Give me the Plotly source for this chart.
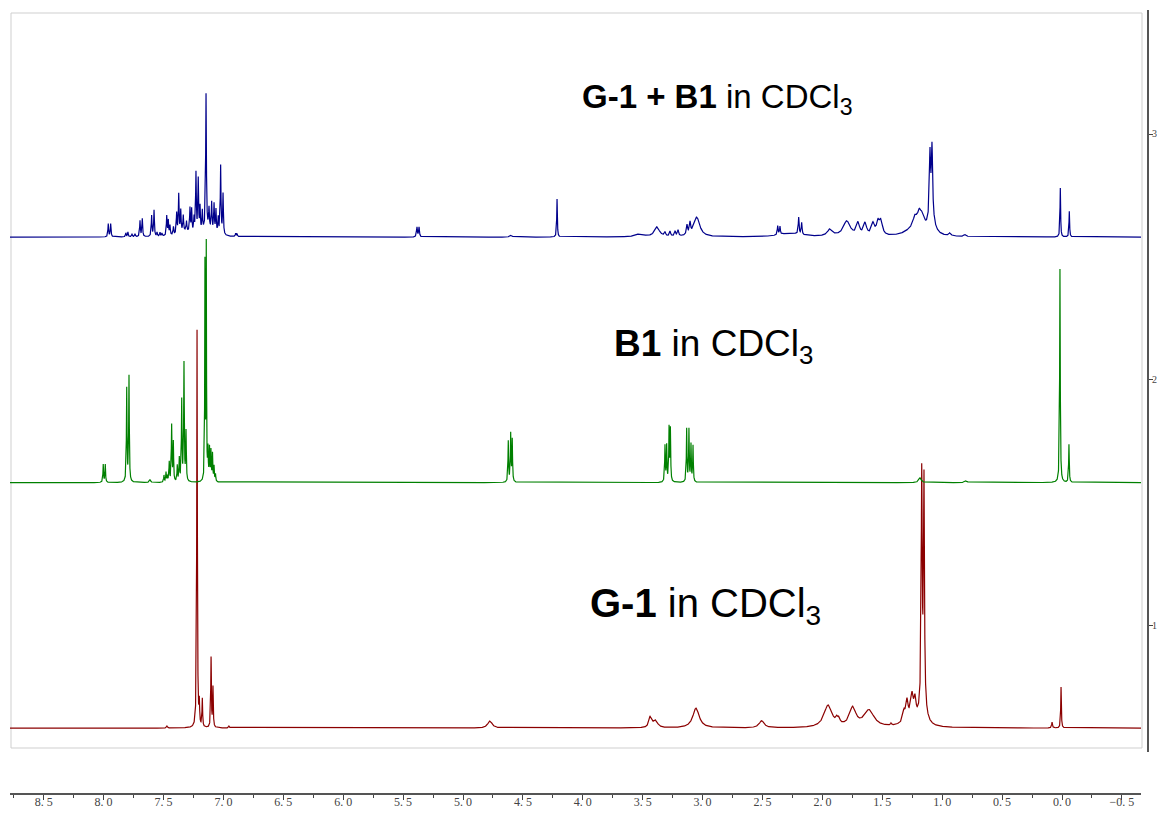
import numpy as np
import plotly.graph_objects as go

PAGE = 8   # the html body margin shifts the figure by 8 px
W, H = 1165 - 2 * PAGE, 818 - 2 * PAGE   # fits the window without scrolling

# ---------------- data: peak tables ----------------
# chemical shift (ppm), intensity (axis units), half width (ppm)
red_ppm = [7.471, 7.220, 7.201, 7.176, 7.103, 7.087, 6.953, 4.775, 3.440, 3.425, 3.391,
           3.055, 2.507, 1.953, 1.880, 1.862, 1.747, 1.611, 1.427, 1.319, 1.294, 1.252,
           1.227, 1.270, 1.171, 1.152, 1.162, 0.083, 0.008]
red_int = [0.008, 1.62, 0.09, 0.114, 0.285, 0.163, 0.008, 0.029, 0.037, 0.02, 0.029,
           0.081, 0.029, 0.09, 0.02, 0.02, 0.077, 0.069, 0.008, 0.04, 0.073, 0.09,
           0.073, 0.033, 0.91, 0.89, 0.12, 0.024, 0.167]
red_hw = [0.005, 0.003, 0.003, 0.003, 0.003, 0.003, 0.005, 0.022, 0.012, 0.01, 0.02,
          0.032, 0.025, 0.04, 0.01, 0.01, 0.032, 0.05, 0.005, 0.01, 0.01, 0.012,
          0.01, 0.06, 0.0045, 0.0045, 0.025, 0.004, 0.003]

green_ppm = [8.003, 7.986, 7.807, 7.788, 7.613, 7.496, 7.479, 7.467, 7.452, 7.432, 7.418,
             7.385, 7.368, 7.348, 7.329, 7.312, 7.154, 7.143, 7.129, 7.116, 7.104, 7.091,
             7.078, 7.066, 4.622, 4.602, 4.589, 3.314, 3.300, 3.280, 3.269, 3.133, 3.114,
             3.097, 3.080, 1.185, 0.801, 0.017, -0.058]
green_int = [0.073, 0.073, 0.38, 0.43, 0.012, 0.028, 0.04, 0.024, 0.08, 0.23, 0.16,
             0.065, 0.094, 0.33, 0.48, 0.2, 0.88, 0.95, 0.12, 0.13, 0.12, 0.11,
             0.06, 0.03, 0.167, 0.195, 0.171, 0.147, 0.147, 0.216, 0.212, 0.216, 0.212,
             0.151, 0.147, 0.02, 0.008, 0.87, 0.155]
green_hw = [0.003, 0.003, 0.003, 0.003, 0.006, 0.003, 0.003, 0.003, 0.003, 0.003, 0.003,
            0.003, 0.003, 0.003, 0.003, 0.003, 0.0022, 0.0022, 0.003, 0.003, 0.003, 0.003,
            0.003, 0.003, 0.003, 0.003, 0.003, 0.003, 0.003, 0.003, 0.003, 0.003, 0.003,
            0.003, 0.003, 0.012, 0.012, 0.003, 0.003]

blue_ppm = [7.961, 7.941, 7.814, 7.797, 7.763, 7.738, 7.696, 7.677, 7.599, 7.579, 7.554,
            7.529, 7.513, 7.473, 7.460, 7.446, 7.417, 7.390, 7.373, 7.356, 7.335, 7.308,
            7.279, 7.265, 7.245, 7.229, 7.210, 7.195, 7.176, 7.145, 7.120, 7.098, 7.078,
            7.062, 7.043, 7.023, 7.003, 6.898, 6.887, 7.32, 7.13,
            5.384, 5.367, 4.599, 4.215, 3.523, 3.381, 3.314, 3.272, 3.230, 3.205, 3.130,
            3.105, 3.049, 2.373, 2.354, 2.198, 2.173, 2.27, 1.937, 1.797, 1.703, 1.644,
            1.578, 1.536, 1.511, 1.227, 1.191, 1.163, 1.25, 1.102, 1.085, 1.09, 0.935,
            0.810, 0.014, -0.061]
blue_int = [0.053, 0.053, 0.016, 0.02, 0.012, 0.012, 0.065, 0.073, 0.085, 0.106, 0.016,
            0.016, 0.012, 0.081, 0.061, 0.04, 0.033, 0.085, 0.159, 0.09, 0.065, 0.04,
            0.098, 0.094, 0.06, 0.244, 0.216, 0.1, 0.081, 0.55, 0.081, 0.114, 0.114,
            0.094, 0.065, 0.28, 0.167, 0.012, 0.012, 0.02, 0.03,
            0.04, 0.04, 0.008, 0.155, 0.012, 0.04, 0.016, 0.02, 0.02, 0.024, 0.04,
            0.045, 0.08, 0.037, 0.033, 0.069, 0.049, 0.016, 0.028, 0.062, 0.05, 0.05,
            0.047, 0.05, 0.054, 0.045, 0.065, 0.05, 0.025, 0.26, 0.28, 0.07, 0.012,
            0.008, 0.2, 0.105]
blue_hw = [0.0035] * 39 + [0.06, 0.05] + \
          [0.004, 0.004, 0.01, 0.003, 0.04, 0.025, 0.006, 0.006, 0.006, 0.006, 0.006,
           0.006, 0.03, 0.004, 0.004, 0.004, 0.004, 0.1, 0.025, 0.035, 0.015, 0.015,
           0.015, 0.015, 0.015, 0.02, 0.02, 0.02, 0.08, 0.006, 0.006, 0.03, 0.01,
           0.01, 0.003, 0.003]

offsets = [0.58, 1.58, 2.58]           # red, green, blue baselines
labels_html = ["<b>G-1</b> in CDCl<sub>3</sub>",
               "<b>B1</b> in CDCl<sub>3</sub>",
               "<b>G-1 + B1</b> in CDCl<sub>3</sub>"]
x_ticks = [8.5, 8.0, 7.5, 7.0, 6.5, 6.0, 5.5, 5.0, 4.5, 4.0, 3.5, 3.0, 2.5, 2.0, 1.5, 1.0, 0.5, 0.0, -0.5]
x_ticktext = ["8. 5", "8. 0", "7. 5", "7. 0", "6. 5", "6. 0", "5. 5", "5. 0", "4. 5", "4. 0",
              "3. 5", "3. 0", "2. 5", "2. 0", "1. 5", "1. 0", "0. 5", "0. 0", "\u22120. 5"]
y_ticks = [1, 2, 3]
y_ticktext = ["1", "2", "3"]

# --------------------------------------------------------------------------
all_centers = np.array(red_ppm + green_ppm + blue_ppm)
grid = np.union1d(np.linspace(-0.66, 8.79, 26000), all_centers)


def spectrum(ppm, inten, hw, base):
    y = np.full_like(grid, base)
    for c, h, w in zip(ppm, inten, hw):
        y += h * w * w / ((grid - c) ** 2 + w * w)
    return y


fig = go.Figure()
specs = [(red_ppm, red_int, red_hw, "#8b0000"),
         (green_ppm, green_int, green_hw, "#008000"),
         (blue_ppm, blue_int, blue_hw, "#00008b")]
for (p, i, w, col), off in zip(specs, offsets):
    fig.add_trace(go.Scatter(x=grid, y=spectrum(p, i, w, off), mode="lines",
                             line=dict(color=col, width=1.2), showlegend=False,
                             hoverinfo="skip"))


def fx(sx):   # screen x -> paper fraction
    return (sx - PAGE) / W


def fy(sy):   # screen y -> paper fraction
    return 1 - (sy - PAGE) / H


def px2ppm(px):
    return (1062 - px) / 119.8


def py2val(py):
    return 1 + (625 - py) / 245.5


fig.update_layout(
    width=W, height=H,
    margin=dict(l=0, r=0, t=0, b=0, autoexpand=False),
    paper_bgcolor="white", plot_bgcolor="white",
    xaxis=dict(domain=[fx(10), fx(1141)], range=[px2ppm(10), px2ppm(1141)],
               autorange=False, tickmode="array", tickvals=x_ticks, ticktext=x_ticktext,
               ticks="outside", ticklen=5, tickwidth=1, tickcolor="#444",
               minor=dict(dtick=0.25, tick0=0, ticks="outside", ticklen=3, tickcolor="#444"),
               showline=True, linecolor="#555", linewidth=1.5,
               showgrid=False, zeroline=False, anchor="free", position=fy(794),
               automargin=False, ticklabeloverflow="allow", ticklabelstandoff=-8,
               tickfont=dict(family="Liberation Serif, DejaVu Serif, serif", size=12, color="#444")),
    yaxis=dict(domain=[fy(752), fy(10)], range=[py2val(752), py2val(10)],
               autorange=False, anchor="free", position=fx(1148), side="right",
               tickmode="array", tickvals=y_ticks, showticklabels=False,
               ticks="outside", ticklen=4,
               tickcolor="#444", showline=True, linecolor="#555", linewidth=1.5,
               showgrid=False, zeroline=False, automargin=False),
)

# tick labels of the right-hand axis
for v, t in zip(y_ticks, y_ticktext):
    fig.add_annotation(text=t, x=fx(1150), y=v, xref="paper", yref="y",
                       xanchor="left", yanchor="middle", showarrow=False,
                       font=dict(family="Liberation Serif, DejaVu Serif, serif", size=10, color="#444"))

# light grey frame around the spectra
fig.add_shape(type="rect", xref="paper", yref="paper",
              x0=fx(11), x1=fx(1142), y0=fy(748), y1=fy(13),
              line=dict(color="#cfcfcf", width=1), fillcolor="rgba(0,0,0,0)", layer="below")

label_pos = [(588, 606, 40), (612, 346, 37), (580, 99, 33)]
for txt, (lx, ly, fs) in zip(labels_html, label_pos):
    fig.add_annotation(text=txt, x=fx(lx), y=fy(ly), xref="paper", yref="paper",
                       xanchor="left", yanchor="middle", showarrow=False,
                       font=dict(family="Liberation Sans, Arial, sans-serif", size=fs, color="black"))

fig.write_html("out.html")
